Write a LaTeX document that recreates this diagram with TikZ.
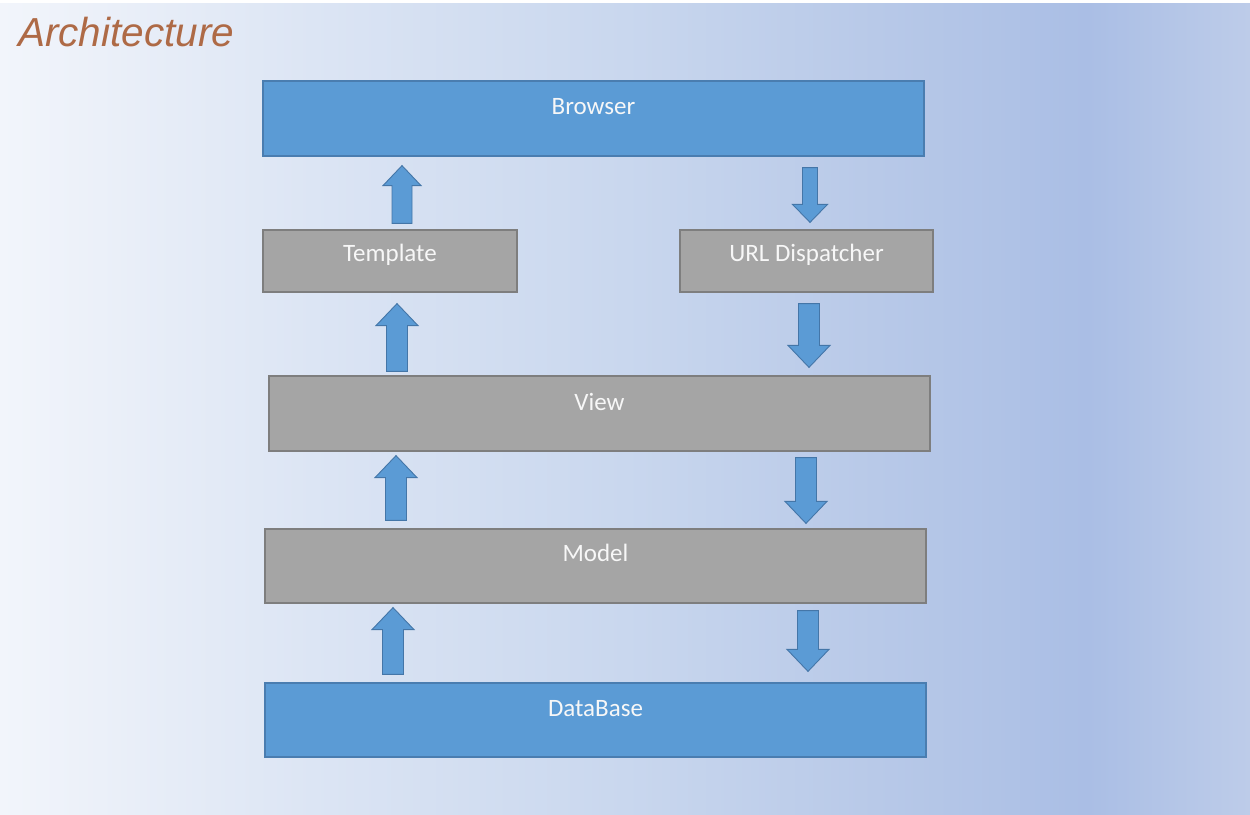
\documentclass[tikz,border=0pt]{standalone}
\usepackage{fontspec}
\setmainfont{Carlito}
\newfontfamily\titlefont{Liberation Sans}
\usetikzlibrary{calc}

\definecolor{boxblue}{HTML}{5B9BD5}
\definecolor{boxblueline}{HTML}{4A7DB0}
\definecolor{boxgray}{HTML}{A5A5A5}
\definecolor{boxgrayline}{HTML}{7E7E7E}
\definecolor{arrowline}{HTML}{4476A8}
\definecolor{titlecolor}{HTML}{AE6A46}
\definecolor{bgA}{HTML}{F2F5FB}
\definecolor{bgB}{HTML}{DCE5F4}
\definecolor{bgC}{HTML}{C9D7EE}
\definecolor{bgD}{HTML}{B8C9E8}
\definecolor{bgE}{HTML}{AABEE5}
\definecolor{bgF}{HTML}{BDCCE9}

% slide background: light on the left, deeper blue towards the right
\pgfdeclarehorizontalshading{slidebg}{100bp}{%
  color(0bp)=(bgA); color(25bp)=(bgA); color(37.5bp)=(bgB);
  color(50bp)=(bgC); color(60bp)=(bgD); color(68.5bp)=(bgE);
  color(75bp)=(bgF); color(100bp)=(bgF)}

% block arrow sizes (half shaft width, half head width, head length)
\def\ashaft{10.5}
\def\ahead{21}
\def\alen{22}
% #1 x position, #2 start anchor, #3 target anchor, #4 gap at start, #5 gap at tip
\newcommand\blockarrow[5]{%
  \filldraw[arrowbody] let \p1=(#2), \p2=(#3), \n1={sign(\y2-\y1)} in
    ({#1pt-\ashaft pt},{\y1+\n1*#4pt})
    -- ({#1pt-\ashaft pt},{\y2-\n1*#5pt-\n1*\alen pt})
    -- ({#1pt-\ahead pt},{\y2-\n1*#5pt-\n1*\alen pt})
    -- ({#1pt},{\y2-\n1*#5pt})
    -- ({#1pt+\ahead pt},{\y2-\n1*#5pt-\n1*\alen pt})
    -- ({#1pt+\ashaft pt},{\y2-\n1*#5pt-\n1*\alen pt})
    -- ({#1pt+\ashaft pt},{\y1+\n1*#4pt}) -- cycle;}

\begin{document}
\begin{tikzpicture}[x=1pt,y=-1pt,
  box/.style={rectangle, inner sep=0pt, line width=1.2pt},
  bluebox/.style={box, fill=boxblue, draw=boxblueline},
  graybox/.style={box, fill=boxgray, draw=boxgrayline},
  boxtext/.style={inner sep=0pt, text=white!94!gray,
    font=\fontsize{25}{30}\selectfont},
  titletext/.style={inner sep=0pt, text=titlecolor,
    font=\titlefont\itshape\fontsize{40.5}{46}\selectfont},
  arrowbody/.style={fill=boxblue, draw=arrowline, line width=0.9pt, line join=miter}]

\useasboundingbox (0,0) rectangle (1250,814);
\shade[shading=slidebg] (0,3) rectangle (1250,814);
\fill[white] (0,0) rectangle (1250,3);

% title
\node[titletext, anchor=base west] (title) at (18,46) {Architecture};

% layers
\node[bluebox, minimum width=661pt, minimum height=75pt] (browser) at (593.5,118.5) {};
\node[graybox, minimum width=254pt, minimum height=62pt] (template) at (390,261) {};
\node[graybox, minimum width=253pt, minimum height=62pt] (urldisp) at (806.5,261) {};
\node[graybox, minimum width=661pt, minimum height=75pt] (view) at (599.5,413.5) {};
\node[graybox, minimum width=661pt, minimum height=74pt] (model) at (595.5,566) {};
\node[bluebox, minimum width=661pt, minimum height=74pt] (database) at (595.5,720) {};

% layer captions, set in the upper part of each box
\node[boxtext, yshift=12pt] (browser-text) at (browser) {Browser};
\node[boxtext, yshift=6pt] (template-text) at (template) {Template};
\node[boxtext, yshift=6pt] (urldisp-text) at (urldisp) {URL Dispatcher};
\node[boxtext, yshift=12pt] (view-text) at (view) {View};
\node[boxtext, yshift=13pt] (model-text) at (model) {Model};
\node[boxtext, yshift=11pt] (database-text) at (database) {DataBase};

% request/response flow
\begin{scope}
  \def\ashaft{10}\def\ahead{19}\def\alen{20}
  \blockarrow{402}{template.north}{browser.south}{6}{9}
\end{scope}
\begin{scope}
  \def\ashaft{7.5}\def\ahead{17.5}\def\alen{18}
  \blockarrow{810}{browser.south}{urldisp.north}{11}{7}
\end{scope}
\blockarrow{809}{urldisp.south}{view.north}{11}{8}
\blockarrow{397}{view.north}{template.south}{4}{11}
\blockarrow{396}{model.north}{view.south}{8}{4}
\blockarrow{806}{view.south}{model.north}{6}{5}
\blockarrow{393}{database.north}{model.south}{8}{4}
\blockarrow{808}{model.south}{database.north}{7}{11}

\end{tikzpicture}
\end{document}
